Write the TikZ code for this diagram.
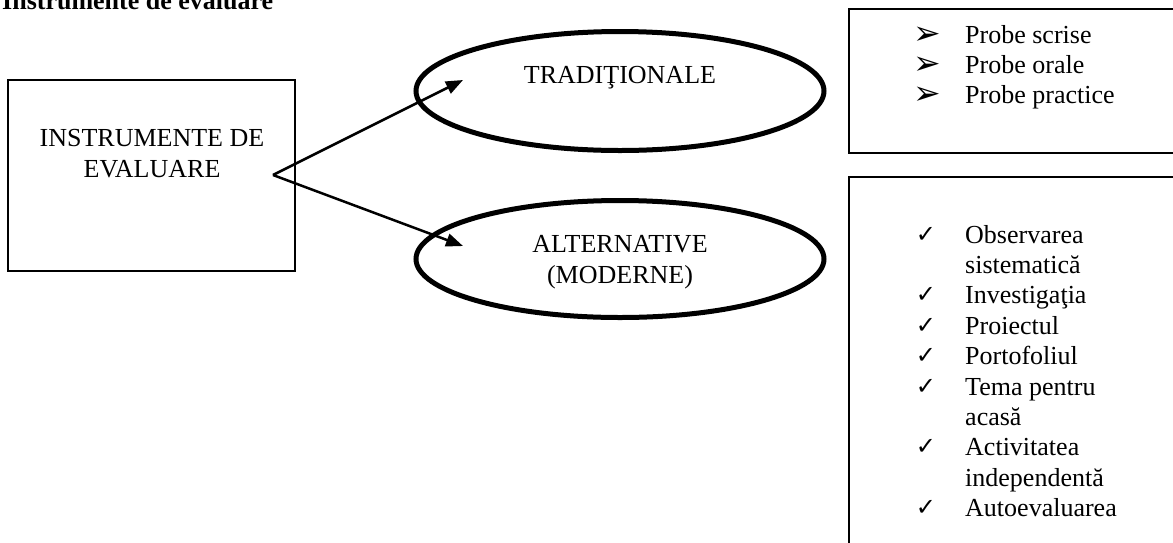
\documentclass[tikz,border=0pt]{standalone}
\usepackage{fontspec}
\setmainfont{Liberation Serif}
\newfontfamily\symfont{DejaVu Sans}
\usetikzlibrary{shapes.geometric,arrows.meta}
\begin{document}
\begin{tikzpicture}[x=1pt,y=-1pt,
  txt/.style={inner sep=0pt, font=\fontsize{26}{31}\selectfont},
  titletxt/.style={inner sep=0pt, font=\fontsize{26}{31}\selectfont\bfseries},
  box/.style={draw, line width=1.8pt, inner sep=0pt},
  oval/.style={ellipse, draw, line width=5pt, inner sep=0pt, minimum width=408pt},
  conn/.style={line width=2.5pt, -{Triangle[length=17pt,width=13pt]}},
  arrbullet/.style={inner sep=0pt, anchor=base, font=\symfont\fontsize{33}{33}\selectfont},
  chkbullet/.style={inner sep=0pt, anchor=base, font=\symfont\fontsize{24}{24}\selectfont},
  item/.style={txt, anchor=base west}
]
\useasboundingbox (0,0) rectangle (1173,542);

% title
\node[titletxt, anchor=base west] (title) at (2,9.5) {Instrumente de evaluare};

% main box
\node[box, minimum width=287pt, minimum height=191pt] (main) at (151.5,175.5) {};
\node[txt, anchor=base] (m1) at (152,146.5) {INSTRUMENTE DE};
\node[txt, anchor=base] (m2) at (152,177) {EVALUARE};

% ellipses
\node[oval, minimum height=119pt] (trad) at (620,91) {};
\node[txt, anchor=base] (tradtxt) at (620,83) {TRADIŢIONALE};
\node[oval, minimum height=117pt] (alt) at (620,259) {};
\node[txt, anchor=base] (alt1) at (620,252) {ALTERNATIVE};
\node[txt, anchor=base] (alt2) at (620,283) {(MODERNE)};

% connectors
\coordinate (o) at (273,175);
\coordinate (t1) at (463,80);
\coordinate (t2) at (463,246);
\draw[conn] (o) -- (t1);
\draw[conn] (o) -- (t2);

% right boxes
\node[box, anchor=north west, minimum width=340pt, minimum height=144pt] (tradbox) at (848,8) {};
\node[box, anchor=north west, minimum width=340pt, minimum height=390pt] (altbox) at (848,176) {};

% list 1
\foreach \t [count=\i from 0] in {Probe scrise, Probe orale, Probe practice}{
  \node[arrbullet] (b\i) at (927,44+30*\i) {➢};
  \node[item] (p\i) at (965,43.3+30*\i) {\t};
}

% list 2
\foreach \t/\bul [count=\i from 0] in {Observarea/1, sistematică/0, Investigaţia/1, Proiectul/1, Portofoliul/1, Tema pentru/1, acasă/0, Activitatea/1, independentă/0, Autoevaluarea/1}{
  \ifnum\bul=1
    \node[chkbullet] (c\i) at (926,242+30.4*\i) {✓};
  \fi
  \node[item] (q\i) at (965,243+30.4*\i) {\t};
}
\end{tikzpicture}
\end{document}
